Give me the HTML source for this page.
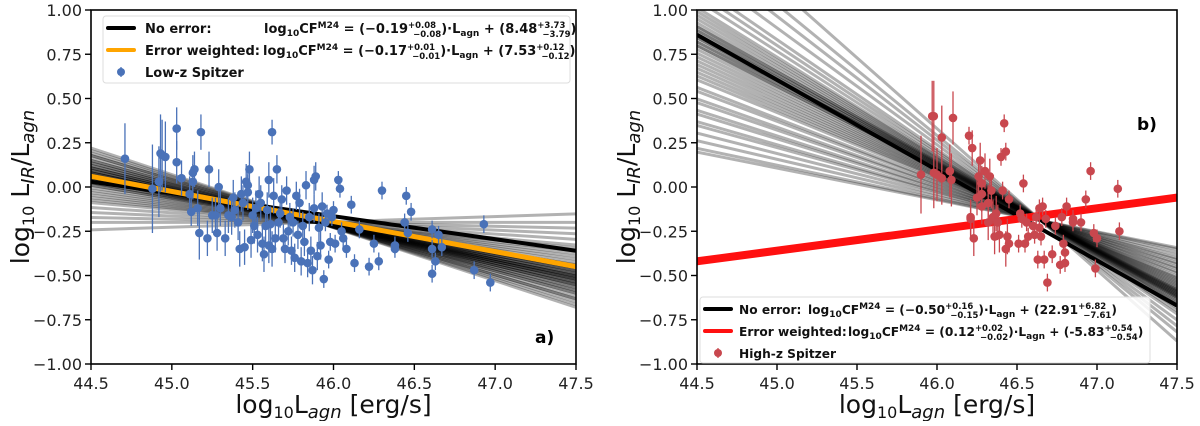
<!DOCTYPE html>
<html><head><meta charset="utf-8"><style>
body{margin:0;background:#fff;width:1200px;height:421px;overflow:hidden}
svg text{font-family:"DejaVu Sans","Liberation Sans",sans-serif}
</style></head><body>
<svg id="fig" width="1200" height="421" viewBox="0 0 1200 421" xmlns="http://www.w3.org/2000/svg"></svg>
<script>
// ---- data ----
const xTicks=[44.5,45.0,45.5,46.0,46.5,47.0,47.5];
const yTicks=[1.00,0.75,0.50,0.25,0.00,-0.25,-0.50,-0.75,-1.00];
const lowX=[44.71,44.88,44.92,44.93,44.94,44.96,45.03,45.03,45.06,45.11,45.12,45.13,45.13,45.14,45.16,45.17,45.18,45.22,45.23,45.25,45.27,45.28,45.29,45.3,45.33,45.35,45.37,45.38,45.39,45.41,45.42,45.43,45.44,45.45,45.46,45.47,45.47,45.48,45.49,45.5,45.51,45.52,45.53,45.54,45.55,45.56,45.57,45.58,45.59,45.6,45.6,45.61,45.62,45.62,45.63,45.64,45.65,45.66,45.67,45.68,45.69,45.7,45.71,45.72,45.73,45.74,45.75,45.76,45.77,45.78,45.79,45.8,45.81,45.82,45.83,45.84,45.85,45.86,45.87,45.88,45.88,45.89,45.9,45.91,45.92,45.93,45.94,45.95,45.96,45.97,45.98,45.99,46.0,46.01,46.03,46.04,46.05,46.06,46.08,46.11,46.13,46.16,46.22,46.25,46.28,46.3,46.38,46.38,46.44,46.45,46.46,46.48,46.61,46.61,46.61,46.63,46.65,46.67,46.87,46.93,46.97];
const lowY=[0.16,-0.01,0.03,0.19,0.18,0.17,0.33,0.14,0.05,-0.04,-0.14,0.03,0.08,0.1,-0.12,-0.26,0.31,-0.29,0.1,-0.16,-0.16,-0.26,0.0,-0.12,-0.29,-0.16,-0.17,-0.06,-0.13,-0.2,-0.35,-0.04,-0.09,-0.34,0.03,0.01,-0.03,0.1,-0.3,-0.16,-0.22,-0.12,-0.27,-0.04,-0.09,-0.32,-0.38,-0.22,-0.13,0.04,-0.33,-0.21,0.31,-0.35,-0.05,-0.29,0.1,-0.2,-0.15,-0.07,-0.29,-0.35,-0.02,-0.25,-0.17,-0.36,-0.2,-0.4,-0.05,-0.27,-0.09,-0.42,-0.22,-0.31,0.01,-0.43,-0.17,-0.36,-0.47,0.04,-0.12,0.06,-0.39,-0.23,-0.33,-0.11,-0.52,-0.2,-0.15,-0.41,-0.31,-0.17,-0.13,-0.32,0.04,-0.01,-0.25,-0.29,-0.35,-0.1,-0.43,-0.24,-0.45,-0.32,-0.42,-0.02,-0.33,-0.35,-0.2,-0.05,-0.26,-0.14,-0.24,-0.35,-0.49,-0.42,-0.27,-0.34,-0.47,-0.21,-0.54];
const lowErr=[0.2,0.25,0.2,0.22,0.2,0.2,0.12,0.12,0.1,0.1,0.08,0.1,0.1,0.1,0.1,0.15,0.1,0.1,0.1,0.1,0.1,0.1,0.1,0.1,0.1,0.1,0.1,0.1,0.1,0.1,0.1,0.1,0.1,0.1,0.1,0.1,0.1,0.1,0.1,0.1,0.1,0.1,0.1,0.1,0.1,0.1,0.1,0.1,0.1,0.1,0.1,0.1,0.07,0.1,0.1,0.08,0.08,0.08,0.08,0.08,0.08,0.08,0.08,0.08,0.08,0.08,0.08,0.08,0.08,0.08,0.08,0.08,0.08,0.08,0.08,0.08,0.08,0.08,0.08,0.08,0.08,0.08,0.08,0.08,0.08,0.08,0.05,0.05,0.05,0.05,0.05,0.05,0.05,0.05,0.05,0.05,0.05,0.05,0.05,0.05,0.05,0.05,0.05,0.05,0.05,0.05,0.05,0.05,0.05,0.05,0.05,0.05,0.05,0.05,0.05,0.05,0.05,0.05,0.05,0.05,0.05];
const highX=[45.9,45.97,45.98,45.98,46.0,46.03,46.03,46.08,46.09,46.1,46.2,46.21,46.21,46.22,46.23,46.25,46.26,46.27,46.28,46.28,46.28,46.3,46.32,46.32,46.33,46.34,46.35,46.36,46.37,46.38,46.39,46.4,46.41,46.42,46.43,46.43,46.44,46.45,46.45,46.51,46.52,46.53,46.54,46.55,46.56,46.57,46.6,46.61,46.62,46.63,46.64,46.64,46.65,46.66,46.67,46.68,46.69,46.72,46.74,46.77,46.78,46.79,46.8,46.8,46.81,46.85,46.85,46.9,46.93,46.96,46.98,46.99,47.0,47.13,47.14];
const highY=[0.07,0.4,0.4,0.08,0.07,0.28,0.05,0.09,0.04,0.39,0.29,-0.17,-0.18,0.22,-0.29,-0.06,0.06,0.15,-0.11,0.02,-0.04,0.09,-0.2,-0.09,0.06,-0.02,-0.17,-0.28,-0.15,-0.2,-0.27,0.17,-0.02,0.36,0.2,-0.35,-0.28,-0.07,-0.32,-0.32,-0.15,-0.18,0.02,-0.32,-0.2,-0.28,-0.22,-0.27,-0.17,-0.41,-0.12,-0.23,-0.28,-0.11,-0.41,-0.18,-0.54,-0.38,-0.22,-0.44,-0.17,-0.32,-0.37,-0.43,-0.11,-0.18,-0.2,-0.2,-0.07,0.09,-0.26,-0.46,-0.29,-0.01,-0.25];
const highErr=[0.22,0.2,0.2,0.2,0.15,0.18,0.15,0.15,0.15,0.15,0.05,0.1,0.1,0.1,0.1,0.1,0.1,0.1,0.1,0.1,0.1,0.1,0.1,0.1,0.1,0.1,0.1,0.1,0.1,0.1,0.1,0.05,0.05,0.05,0.05,0.1,0.1,0.05,0.05,0.05,0.05,0.05,0.05,0.05,0.05,0.05,0.05,0.05,0.05,0.05,0.05,0.05,0.05,0.05,0.05,0.05,0.05,0.05,0.05,0.05,0.05,0.05,0.05,0.05,0.05,0.05,0.05,0.05,0.05,0.05,0.05,0.05,0.05,0.05,0.05];
const lowSlopes=[-0.30,-0.29,-0.28,-0.27,-0.27,-0.26,-0.25,-0.25,-0.24,-0.24,-0.23,-0.23,-0.22,-0.22,-0.22,-0.21,-0.21,-0.21,-0.20,-0.20,-0.20,-0.20,-0.19,-0.19,-0.19,-0.19,-0.18,-0.18,-0.18,-0.17,-0.17,-0.17,-0.16,-0.16,-0.15,-0.15,-0.14,-0.13,-0.12,-0.11,-0.10,-0.09,-0.08,-0.06,-0.04,-0.02,0.0,0.03];
const lowPivot=[45.9,-0.2];
const highSlopes=[-0.80,-0.74,-0.70,-0.66,-0.62,-0.60,-0.58,-0.56,-0.55,-0.54,-0.53,-0.52,-0.51,-0.51,-0.50,-0.50,-0.49,-0.49,-0.48,-0.48,-0.47,-0.47,-0.46,-0.46,-0.45,-0.44,-0.43,-0.42,-0.41,-0.40,-0.39,-0.38,-0.37,-0.35,-0.34,-0.32,-0.31,-0.29,-0.28,-0.26,-0.25,-0.23,-0.21,-0.19,-0.18];
const highPivot=[46.65,-0.19];
const lowMain=[-0.13,44.5,0.03];
const lowWeighted=[-0.17,7.625];
const highMain=[-0.51,44.5,0.86];
const highWeighted=[0.12,-5.76];

const NS='http://www.w3.org/2000/svg';
const svg=document.getElementById('fig');
function mk(tag,attrs,parent){const e=document.createElementNS(NS,tag);for(const k in attrs)e.setAttribute(k,attrs[k]);(parent||svg).appendChild(e);return e;}

function panel(P){
  const g=mk('g',{});
  
  
  const sx=v=>P.x0+(v-44.5)/3*(P.x1-P.x0);
  const sy=v=>P.y0+(1-v)/2*(P.y1-P.y0);
  const cid='clip'+P.name;
  const cp=mk('clipPath',{id:cid},g);mk('rect',{x:P.x0,y:P.y0,width:P.x1-P.x0,height:P.y1-P.y0},cp);
  const inner=mk('g',{'clip-path':'url(#'+cid+')'},g);
  P.slopes.forEach(s=>{
    const l=mk('line',{x1:sx(44.5),y1:sy(P.pivot[1]+s*(44.5-P.pivot[0])),x2:sx(47.5),y2:sy(P.pivot[1]+s*(47.5-P.pivot[0])),stroke:'#000','stroke-opacity':0.3,'stroke-width':3},inner);
    
    
  });
  const m=P.main;
  const ml=mk('line',{x1:sx(44.5),y1:sy(m[2]+m[0]*(44.5-m[1])),x2:sx(47.5),y2:sy(m[2]+m[0]*(47.5-m[1])),stroke:'#000','stroke-width':4},inner);
  
  
  const w=P.weighted;
  const wl=mk('line',{x1:sx(44.5),y1:sy(w[1]+w[0]*44.5),x2:sx(47.5),y2:sy(w[1]+w[0]*47.5),stroke:P.wcol,'stroke-width':P.wwidth},inner);
  
  
  P.xs.forEach((xv,i)=>{
    const yv=P.ys[i],e=P.err[i];
    if(e>0){const eb=mk('line',{x1:sx(xv),x2:sx(xv),y1:sy(yv+e),y2:sy(yv-e),stroke:P.pcol,'stroke-width':1.3},inner);
      
      }
    const c=mk('circle',{cx:sx(xv),cy:sy(yv),r:4.3,fill:P.pcol},inner);
    
    
  });
  const fr=mk('rect',{x:P.x0,y:P.y0,width:P.x1-P.x0,height:P.y1-P.y0,fill:'none',stroke:'#000','stroke-width':1.6},g);
  
  
  xTicks.forEach(t=>{
    mk('line',{x1:sx(t),x2:sx(t),y1:P.y1,y2:P.y1+6,stroke:'#000','stroke-width':1.4},g);
    const tx=mk('text',{x:sx(t),y:P.y1+25,'font-size':16,'text-anchor':'middle',fill:'#222'},g);
    tx.textContent=t.toFixed(1);
    
    
  });
  yTicks.forEach(t=>{
    mk('line',{x1:P.x0-6,x2:P.x0,y1:sy(t),y2:sy(t),stroke:'#000','stroke-width':1.4},g);
    const tx=mk('text',{x:P.x0-9,y:sy(t)+6,'font-size':16,'text-anchor':'end',fill:'#222'},g);
    tx.textContent=(t<0?'\u2212':'')+Math.abs(t).toFixed(2);
    
    
  });
  const xl=mk('text',{x:(P.x0+P.x1)/2,y:413,'font-size':25,'text-anchor':'middle',fill:'#111'},g);
  xl.innerHTML='log<tspan font-size="16" dy="5">10</tspan><tspan dy="-5">L</tspan><tspan font-size="18" dy="5" font-style="italic">agn</tspan><tspan dy="-5"> [erg/s]</tspan>';
  
  
  const yl=mk('text',{x:0,y:0,'font-size':25,'text-anchor':'middle',fill:'#111',transform:'translate('+(P.x0-62)+','+((P.y0+P.y1)/2)+') rotate(-90)'},g);
  yl.innerHTML='log<tspan font-size="16" dy="5">10</tspan><tspan dy="-5"> L</tspan><tspan font-size="18" dy="5" font-style="italic">IR</tspan><tspan dy="-5">/L</tspan><tspan font-size="18" dy="5" font-style="italic">agn</tspan>';
  
  
  const pl=mk('text',{x:P.lab[0],y:P.lab[1],'font-size':17,'font-weight':'bold',fill:'#000'},g);
  pl.textContent=P.labText;
  
  
  const L=P.leg;
  const lg=mk('g',{},g);
  
  
  mk('rect',{x:L.x,y:L.y,width:L.w,height:L.h,fill:'#fff','fill-opacity':0.85,stroke:'#ddd',rx:3},lg);
  const rows=[{c:'#000'},{c:P.wcol},{pt:1}];
  rows.forEach((r,i)=>{
    const yy=L.y+12+i*22;
    if(r.pt){mk('line',{x1:L.x+18,x2:L.x+18,y1:yy-5,y2:yy+5,stroke:P.pcol,'stroke-width':1.3},lg);mk('circle',{cx:L.x+18,cy:yy,r:4,fill:P.pcol},lg);}
    else mk('line',{x1:L.x+5,x2:L.x+31,y1:yy,y2:yy,stroke:r.c,'stroke-width':4,'stroke-linecap':'round'},lg);
    const t=mk('text',{x:L.x+L.tx,y:yy+5,'font-size':L.fs,'font-weight':'bold',fill:'#111'},lg);
    t.innerHTML=L.texts[i];
    
    
  });
}
function eq(pre,gap,a,ap,am,b,bp,bm){
  return pre+'<tspan x="'+gap+'">log</tspan><tspan font-size="9" dy="3">10</tspan><tspan dy="-3">CF</tspan><tspan font-size="9" dy="-5">M24</tspan><tspan dy="5"> = (</tspan>'+a+'<tspan font-size="8.5" dy="-5">'+ap+'</tspan><tspan font-size="8.5" dx="-23" dy="9">'+am+'</tspan><tspan dy="-4">)·L</tspan><tspan font-size="9" dy="3">agn</tspan><tspan dy="-3"> + (</tspan>'+b+'<tspan font-size="8.5" dy="-5">'+bp+'</tspan><tspan font-size="8.5" dx="-23" dy="9">'+bm+'</tspan><tspan dy="-4">)</tspan>';
}
panel({name:'panel-a',x0:91,x1:576,y0:10,y1:364,xs:lowX,ys:lowY,err:lowErr,slopes:lowSlopes,pivot:lowPivot,main:lowMain,weighted:lowWeighted,
  wcol:'#ffa500',wwidth:5,pcol:'#4a72b8',lab:[535,343],labText:'a)',
  leg:{x:103,y:16,w:467,h:67,tx:42,fs:13,texts:[eq('No error:',264,'\u22120.19','+0.08','\u22120.08','8.48','+3.73','\u22123.79'),eq('Error weighted:',263,'\u22120.17','+0.01','\u22120.01','7.53','+0.12','\u22120.12'),'Low-z Spitzer']}});
panel({name:'panel-b',x0:697,x1:1177,y0:10,y1:364,xs:highX,ys:highY,err:highErr,slopes:highSlopes,pivot:highPivot,main:highMain,weighted:highWeighted,
  wcol:'#ff1010',wwidth:8,pcol:'#c8474e',lab:[1137,130],labText:'b)',
  leg:{x:700,y:297,w:450,h:66,tx:39,fs:12.2,texts:[eq('No error: ',808,'\u22120.50','+0.16','\u22120.15','22.91','+6.82','\u22127.61'),eq('Error weighted: ',848,'0.12','+0.02','\u22120.02','-5.83','+0.54','\u22120.54'),'High-z Spitzer']}});
</script>
</body></html>
